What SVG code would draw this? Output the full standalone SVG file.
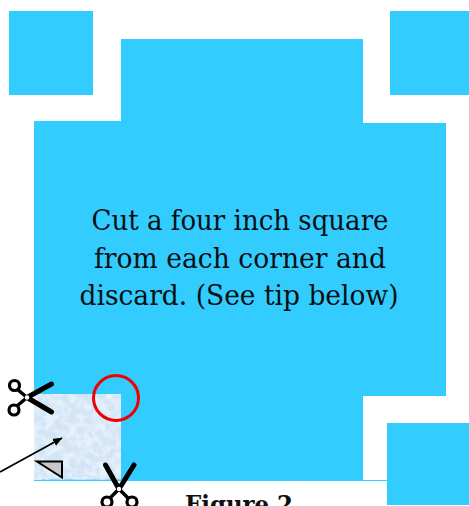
<svg xmlns="http://www.w3.org/2000/svg" width="469" height="506" viewBox="0 0 469 506">
<style>
.b{fill:#33ccff}
.t{font-family:"DejaVu Serif Condensed","DejaVu Serif","Liberation Serif",serif;font-stretch:condensed;font-size:27.500px;fill:#0a1014;text-anchor:middle}
.s{stroke:#000;fill:none}
.blade{stroke:#000;stroke-width:5;stroke-linecap:round;fill:none}
.h{stroke:#000;stroke-width:3.200;fill:#fff}
</style>
<defs>
<filter id="tex2" x="0" y="0" width="100%" height="100%">
<feTurbulence type="fractalNoise" baseFrequency="0.13" numOctaves="3" seed="7" result="n"/>
<feColorMatrix in="n" values="0 0 0 0 0.88  0 0 0 0 0.94  0 0 0 0 1  3 0 0 0 -1.100"/>
</filter>
<marker id="ah" markerWidth="12" markerHeight="10" refX="9" refY="4" orient="auto" markerUnits="userSpaceOnUse"><path d="M0 0L9.500 4L0 8z" fill="#000"/></marker>
</defs>
<g id="sheet"><path class="b" d="M34 121H121V39H363V123H446V396H363V481H34z"/><rect class="b" x="363" y="480" width="24" height="1"/></g>
<g id="corner-tl"><rect class="b" x="9" y="11" width="84" height="84"/></g>
<g id="corner-tr"><rect class="b" x="390" y="11" width="79" height="84"/></g>
<g id="corner-br"><rect class="b" x="387" y="423" width="82" height="82"/></g>
<g id="caption">
<text class="t" x="240" y="230" textLength="297" lengthAdjust="spacingAndGlyphs">Cut a four inch square</text>
<text class="t" x="240" y="268" textLength="292" lengthAdjust="spacingAndGlyphs">from each corner and</text>
<text class="t" x="239" y="305" textLength="319" lengthAdjust="spacingAndGlyphs">discard. (See tip below)</text>
</g>
<g id="cut-square">
<rect x="34" y="394" width="87" height="85.500" fill="#d3e4f6"/>
<rect x="34" y="394" width="87" height="85.500" filter="url(#tex2)" opacity=".7"/>
</g>
<g id="fold-triangle"><path d="M37 461.500H62V477.500z" fill="#c8c8c8" stroke="#000" stroke-width="2"/></g>
<g id="red-circle"><circle cx="116" cy="398" r="22.500" fill="none" stroke="#f00000" stroke-width="3"/></g>
<g id="scissors-left">
<path class="blade" d="M27 397.500L51.500 384M27 397.500L51.500 412"/>
<path class="s" stroke-width="3.500" d="M27 397.500L17 389M27 397.500L17 406"/>
<circle class="h" cx="14.500" cy="385.500" r="5"/><circle class="h" cx="14" cy="410" r="5"/>
<circle cx="27" cy="397.500" r="2.200" fill="#fff"/>
</g>
<g id="scissors-bottom">
<path class="blade" d="M119 489L105.500 465M119 489L134 465"/>
<path class="s" stroke-width="3.500" d="M119 489L110 498M119 489L128 498"/>
<circle class="h" cx="107" cy="502" r="5"/><circle class="h" cx="132" cy="502" r="5"/>
<circle cx="119" cy="489" r="2.200" fill="#fff"/>
</g>
<g id="connectors"><path class="s" stroke-width="1.800" d="M0 472L62 438" marker-end="url(#ah)"/></g>
<g id="figure-label"><text x="239" y="513" text-anchor="middle" font-family="DejaVu Serif Condensed,DejaVu Serif,serif" font-weight="bold" font-size="25" fill="#111" textLength="108" lengthAdjust="spacingAndGlyphs">Figure 2</text></g>
</svg>
